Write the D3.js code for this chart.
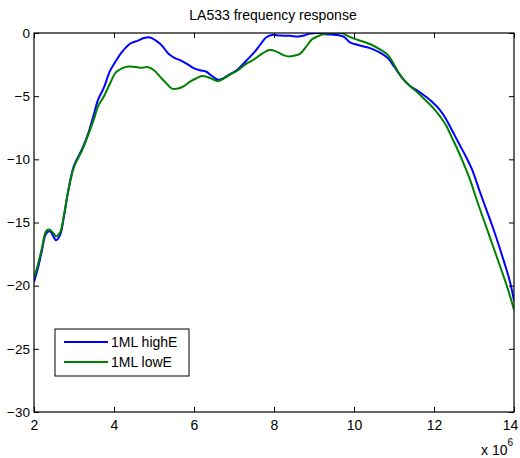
<!DOCTYPE html>
<html><head><meta charset="utf-8">
<script src="https://cdn.jsdelivr.net/npm/d3@7/dist/d3.min.js"></script>
<style>body{margin:0;background:#fff}svg{display:block}text{font-family:"Liberation Sans",Arial,sans-serif;fill:#000}</style>
</head><body><svg id="c" width="520" height="458"></svg>
<script>
const title = "LA533 frequency response";
const xTicks = [2, 4, 6, 8, 10, 12, 14];
const yTicks = [-30, -25, -20, -15, -10, -5, 0];
const seriesNames = ["1ML highE", "1ML lowE"];
const seriesColors = ["#0000ff", "#008000"];
// frequency in units of 1e6 Hz
const highEFreq = [2.0,2.1,2.2,2.3,2.4,2.5,2.55,2.65,2.75,2.85,3.0,3.2,3.35,3.5,3.6,3.75,3.9,4.05,4.2,4.4,4.6,4.75,4.9,5.05,5.2,5.35,5.5,5.65,5.8,6.0,6.15,6.3,6.45,6.6,6.75,6.9,7.05,7.2,7.35,7.5,7.65,7.8,7.95,8.15,8.4,8.6,8.75,8.9,9.1,9.3,9.55,9.75,9.9,10.1,10.4,10.65,10.85,11.0,11.2,11.4,11.6,11.8,11.95,12.15,12.3,12.45,12.65,12.8,12.95,13.15,13.3,13.45,13.6,13.75,13.9,14.0];
const highEdB = [-19.7,-18.6,-17.2,-15.9,-15.7,-16.2,-16.4,-16.0,-14.5,-12.6,-10.5,-9.2,-8.0,-6.4,-5.3,-4.3,-3.0,-2.2,-1.5,-0.85,-0.6,-0.4,-0.35,-0.6,-1.0,-1.6,-1.95,-2.15,-2.4,-2.8,-2.95,-3.05,-3.4,-3.7,-3.55,-3.25,-3.0,-2.55,-2.05,-1.55,-0.95,-0.35,-0.15,-0.2,-0.22,-0.28,-0.2,-0.05,0,-0.1,-0.15,-0.3,-0.75,-0.95,-1.2,-1.55,-2.0,-2.65,-3.55,-4.2,-4.6,-5.05,-5.45,-6.1,-6.8,-7.7,-8.9,-9.8,-10.8,-12.6,-13.9,-15.2,-16.6,-18.1,-19.7,-21.2];
const lowEFreq = [2.0,2.1,2.2,2.3,2.38,2.5,2.55,2.65,2.75,2.85,3.0,3.2,3.35,3.5,3.6,3.75,3.9,4.05,4.2,4.35,4.55,4.7,4.85,5.0,5.15,5.3,5.45,5.6,5.75,5.9,6.05,6.2,6.35,6.5,6.6,6.75,6.9,7.1,7.3,7.5,7.65,7.8,7.9,8.05,8.2,8.35,8.5,8.65,8.8,8.95,9.1,9.3,9.5,9.7,9.85,10.0,10.2,10.45,10.65,10.85,11.0,11.15,11.3,11.55,11.75,12.0,12.15,12.3,12.45,12.6,12.75,12.9,13.1,13.3,13.5,13.7,13.85,14.0];
const lowEdB = [-19.4,-18.3,-17.0,-15.7,-15.55,-15.9,-16.1,-15.8,-14.4,-12.6,-10.6,-9.3,-8.1,-6.8,-5.8,-5.0,-4.0,-3.1,-2.8,-2.65,-2.7,-2.75,-2.7,-2.95,-3.45,-3.95,-4.4,-4.4,-4.2,-3.85,-3.6,-3.4,-3.5,-3.7,-3.8,-3.6,-3.3,-2.95,-2.45,-2.1,-1.75,-1.45,-1.35,-1.45,-1.7,-1.85,-1.8,-1.65,-1.1,-0.5,-0.25,-0.05,0,0,-0.25,-0.45,-0.65,-0.95,-1.3,-1.75,-2.5,-3.3,-3.9,-4.6,-5.2,-6.0,-6.6,-7.3,-8.3,-9.3,-10.4,-11.6,-13.5,-15.3,-17.1,-18.9,-20.3,-21.9];

const svg = d3.select("#c");
const L = 34, R = 514, T = 33, B = 412;
const x = d3.scaleLinear().domain([2, 14]).range([L, R]);
const y = d3.scaleLinear().domain([-30, 0]).range([B, T]);

svg.append("clipPath").attr("id","clip").append("rect").attr("x",L).attr("y",T).attr("width",R-L).attr("height",B-T);

const series = [
  {f: highEFreq, v: highEdB},
  {f: lowEFreq, v: lowEdB}
];
const line = d3.line().x(d => x(d[0])).y(d => y(d[1])).curve(d3.curveCatmullRom.alpha(0.5));
series.forEach((s, i) => {
  svg.append("path").attr("clip-path","url(#clip)")
    .datum(s.f.map((f, j) => [f, s.v[j]]))
    .attr("d", line).attr("fill","none")
    .attr("stroke", seriesColors[i]).attr("stroke-width", 2);
});

// axes
const gB = svg.append("g").attr("transform",`translate(0,${B})`)
  .call(d3.axisBottom(x).tickValues(xTicks).tickSize(-5).tickPadding(8).tickFormat(d3.format("d")));
const gT = svg.append("g").attr("transform",`translate(0,${T})`)
  .call(d3.axisTop(x).tickValues(xTicks).tickSize(-5).tickFormat(""));
const gL = svg.append("g").attr("transform",`translate(${L},0)`)
  .call(d3.axisLeft(y).tickValues(yTicks).tickSize(-5).tickPadding(4).tickFormat(d3.format("d")));
const gR = svg.append("g").attr("transform",`translate(${R},0)`)
  .call(d3.axisRight(y).tickValues(yTicks).tickSize(-5).tickFormat(""));
[gB,gT,gL,gR].forEach(g => {
  g.select(".domain").remove();
  g.selectAll("line").attr("stroke","#000");
  g.selectAll("text").attr("font-family",null);
});
gB.selectAll("text").style("font-size","14px");
gB.selectAll(".tick").filter(d => d === 14).select("text").attr("dx", -4);
gL.selectAll("text").style("font-size","13.5px");
svg.append("rect").attr("x",L).attr("y",T).attr("width",R-L).attr("height",B-T)
  .attr("fill","none").attr("stroke","#000").attr("stroke-width",1.2);

// title
svg.append("text").attr("x",273).attr("y",20).attr("text-anchor","middle").style("font-size","14px").text(title);

// exponent label
const ex = svg.append("text").attr("x",481).attr("y",455).style("font-size","14px");
ex.append("tspan").text("x 10");
ex.append("tspan").attr("dy",-9).style("font-size","10px").text("6");

// legend
const lg = svg.append("g");
lg.append("rect").attr("x",55).attr("y",329).attr("width",134).attr("height",47)
  .attr("fill","#fff").attr("stroke","#000").attr("stroke-width",1);
seriesNames.forEach((n, i) => {
  const yy = 342 + i*20;
  lg.append("line").attr("x1",64).attr("x2",108).attr("y1",yy).attr("y2",yy)
    .attr("stroke",seriesColors[i]).attr("stroke-width",2);
  lg.append("text").attr("x",111).attr("y",yy+5).style("font-size","14px").text(n);
});
</script></body></html>
